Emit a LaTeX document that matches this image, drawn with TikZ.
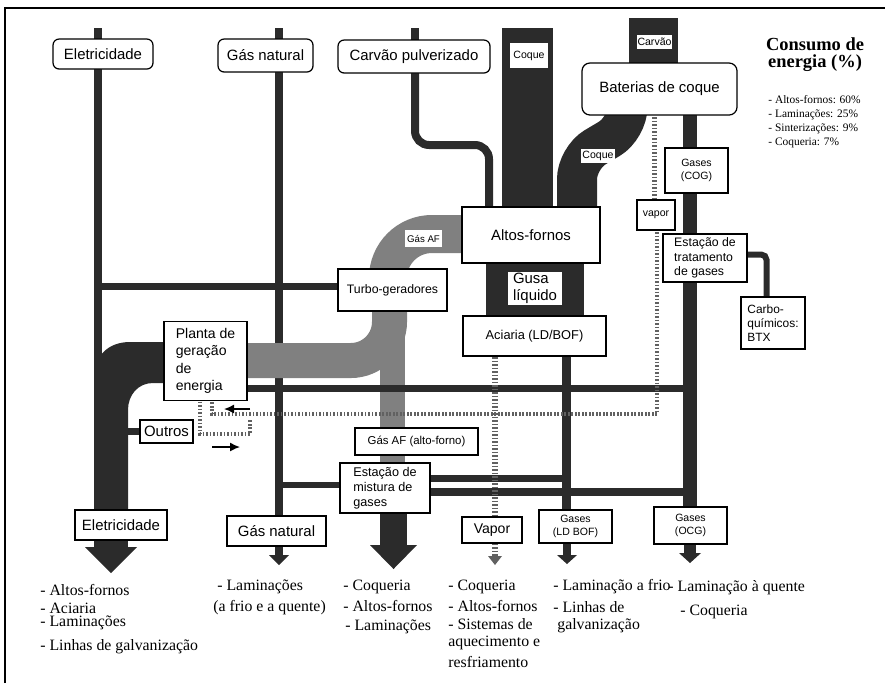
\documentclass[tikz,border=0pt]{standalone}
\usepackage{fontspec}
\setmainfont{Liberation Serif}
\setsansfont{Liberation Sans}
\usetikzlibrary{arrows.meta}
\definecolor{flowdark}{gray}{0.17}
\definecolor{flowgas}{gray}{0.50}
\definecolor{flowsteam}{gray}{0.38}
\begin{document}
\begin{tikzpicture}[x=0.2mm,y=-0.2mm,
  flowbox/.style={draw, line width=0.7pt, fill=white, inner sep=1pt, align=center,
    font=\sffamily\fontsize{8.5}{10}\selectfont},
  srcbox/.style={flowbox, rounded corners=3.5pt},
  sz/.style 2 args={minimum width=#1*0.2mm, minimum height=#2*0.2mm},
  midf/.style={font=\sffamily\fontsize{7}{8.3}\selectfont},
  smallf/.style={font=\sffamily\fontsize{6}{7.2}\selectfont},
  tag/.style={fill=white, inner sep=0.5pt, align=center, font=\sffamily\fontsize{6}{7}\selectfont},
  dband/.style={draw=flowdark, line width=#1*0.2mm},
  gband/.style={draw=flowgas, line width=#1*0.2mm},
  steam/.style={draw=flowsteam, line width=#1*0.2mm, dash pattern=on 0.35mm off 0.35mm},
  usetext/.style={anchor=west, inner sep=0, font=\fontsize{9}{10}\selectfont},
  share/.style={anchor=west, inner sep=0, font=\fontsize{6.5}{7.5}\selectfont},
  smallarrow/.style={-{Latex[length=2mm,width=1.8mm]}, line width=0.8pt}
]
\useasboundingbox (0,0) rectangle (885,683);
% frame
\draw[line width=0.6pt] (5,683) -- (5,8) -- (885,8);

% ---------- flows (drawn below the boxes) ----------
% electricity
\draw[dband=8] (98,28) -- (98,45);
\draw[dband=8] (98,60) -- (98,515);
\draw[dband=7] (94,286.5) -- (345,286.5);
% power plant output to the electricity line
\fill[flowdark] (175,342) -- (130,342) .. controls (108,342) and (94,356) .. (94,378)
  -- (94,515) -- (128,515) -- (128,410) .. controls (128,395) and (138,383) .. (153,383)
  -- (175,383) -- cycle;
\draw[dband=7] (125,431.5) -- (145,431.5);
% natural gas
\draw[dband=8] (279,28) -- (279,45);
\draw[dband=8] (279,65) -- (279,520);
\draw[dband=6] (279,485) -- (345,485);
% pulverised coal
\draw[dband=8] (415,28) -- (415,45);
\draw[dband=8, rounded corners=8] (415,65) -- (415,145) -- (489,145) -- (489,215);
% coke
\draw[dband=51] (527.5,28) -- (527.5,215);
\draw[dband=49] (653.5,18) -- (653.5,70);
\draw[dband=40, rounded corners=12] (627.5,105) -- (627.5,128) -- (577,158) -- (577,215);
% blast furnace gas
\draw[gband=38, rounded corners=25] (470,234) -- (388,234) -- (388,280);
\draw[gband=35, rounded corners=22] (240,360.5) -- (389.5,360.5) -- (389.5,300);
\draw[gband=25] (392.5,300) -- (392.5,470);
% hot metal
\draw[dband=98] (535,255) -- (535,325);
% coke oven gas
\draw[dband=14] (689.5,105) -- (689.5,515);
\draw[dband=6, rounded corners=3] (740,254.5) -- (766.5,254.5) -- (766.5,305);
\draw[dband=7] (240,388.5) -- (696.5,388.5);
\draw[dband=8] (425,492) -- (696.5,492);
% steel shop gas
\draw[dband=9] (566.5,350) -- (566.5,515);
\draw[dband=7] (425,478.5) -- (571,478.5);
% steam
\draw[steam=5] (654,110) -- (654,205);
\draw[steam=4] (657,225) -- (657,414) -- (212,414) -- (212,398);
\draw[steam=4] (200,398) -- (200,434) -- (250,434) -- (250,420);
\draw[steam=6] (495,350) -- (495,520);
\coordinate (inA) at (250,409); \coordinate (inB) at (224,409);
\draw[smallarrow] (inA) -- (inB);
\coordinate (outA) at (212,447); \coordinate (outB) at (240,447);
\draw[smallarrow] (outA) -- (outB);

% ---------- end uses (arrows) ----------
\fill[flowdark] (94,535) rectangle (128,548);
\fill[flowdark] (85,547) -- (137,547) -- (111,573) -- cycle;
\fill[flowdark] (275,540) rectangle (283,556);
\fill[flowdark] (269,555) -- (289,555) -- (279,565) -- cycle;
\fill[flowdark] (380,508) rectangle (407,546);
\fill[flowdark] (370,545) -- (417,545) -- (393.5,569) -- cycle;
\draw[steam=6] (495,540) -- (495,557);
\fill[flowsteam] (488,556) -- (502,556) -- (495,565) -- cycle;
\fill[flowdark] (562.5,540) rectangle (570.5,556);
\fill[flowdark] (557,555) -- (577,555) -- (567,564) -- cycle;
\fill[flowdark] (684,540) rectangle (696,554);
\fill[flowdark] (679,553) -- (701,553) -- (690,563) -- cycle;

% ---------- sources ----------
\node[srcbox, sz={100}{30}] (eleTop) at (103,54) {Eletricidade};
\node[srcbox, sz={95}{33}] (gasTop) at (265.5,55.5) {Gás natural};
\node[srcbox, sz={152}{33}] (carvTop) at (414,56.5) {Carvão pulverizado};
\node[srcbox, sz={155}{52}, rounded corners=4.5pt] (bat) at (659.5,89) {Baterias de coque};
\node[tag, sz={38}{25}] (coqueTag) at (529,55.5) {Coque};
\node[tag, sz={33}{14}] (carvTag) at (654.5,42) {Carvão};
\node[tag, sz={34}{14}] (coque2Tag) at (598,156) {Coque};

% ---------- process units ----------
\node[flowbox, sz={138}{56}] (alto) at (531,235) {Altos-fornos};
\node[tag, sz={37}{17}, font=\sffamily\fontsize{5.5}{6.5}\selectfont] (afTag) at (423.5,238.5) {Gás AF};
\node[tag, sz={54}{33}, font=\sffamily\fontsize{8.5}{9.6}\selectfont, align=left] (gusa) at (535,288.5) {Gusa\\líquido};
\node[flowbox, midf, sz={109}{42}] (turbo) at (392.5,290) {Turbo-geradores};
\node[flowbox, sz={143}{40}, font=\sffamily\fontsize{7.3}{8.5}\selectfont] (aciaria) at (534.5,336) {Aciaria (LD/BOF)};
\node[flowbox, sz={83}{79}, align=left, font=\sffamily\fontsize{8}{9.9}\selectfont] (planta) at (205.5,361) {Planta de\\geração\\de\\energia};
\node[flowbox, sz={53}{23}] (outros) at (166.5,431.5) {Outros};
\node[flowbox, smallf, sz={123}{27}, font=\sffamily\fontsize{6.5}{7.5}\selectfont] (afBox) at (416.5,441.5) {Gás AF (alto-forno)};
\node[flowbox, sz={90}{50}, align=left, font=\sffamily\fontsize{7.2}{8.5}\selectfont] (mistura) at (385,488) {Estação de\\mistura de\\gases};
\node[flowbox, smallf, sz={63}{45}] (cog) at (696.5,170.5) {Gases\\(COG)};
\node[flowbox, smallf, sz={38}{30}] (vaporTop) at (656,215) {vapor};
\node[flowbox, sz={84}{48}, align=left, font=\sffamily\fontsize{7}{8.2}\selectfont] (trat) at (705,258) {Estação de\\tratamento\\de gases};
\node[flowbox, sz={64}{52}, align=left, font=\sffamily\fontsize{6.8}{8}\selectfont] (btx) at (773,323) {Carbo-\\químicos:\\BTX};

% ---------- end products ----------
\node[flowbox, sz={92}{30}] (eleBot) at (121,525) {Eletricidade};
\node[flowbox, sz={99}{30}] (gasBot) at (276.5,531) {Gás natural};
\node[flowbox, sz={60}{26}, font=\sffamily\fontsize{8}{9}\selectfont] (vapBot) at (492,530) {Vapor};
\node[flowbox, smallf, sz={73}{33}] (ldBot) at (575.5,526.5) {Gases\\(LD BOF)};
\node[flowbox, smallf, sz={73}{37}] (ocgBot) at (690.5,525.5) {Gases\\(OCG)};

% ---------- consumers ----------
\node[usetext] at (40,590) {- Altos-fornos};
\node[usetext] at (40,608) {- Aciaria};
\node[usetext] at (40,623) {- Laminações};
\node[usetext] at (40,647) {- Linhas de galvanização};
\node[usetext] at (217,587) {- Laminações};
\node[usetext] at (213,608) {(a frio e a quente)};
\node[usetext] at (343,587) {- Coqueria};
\node[usetext] at (343,606) {- Altos-fornos};
\node[usetext] at (345,627) {- Laminações};
\node[usetext] at (448,587) {- Coqueria};
\node[usetext] at (448,606) {- Altos-fornos};
\node[usetext] at (448,624) {- Sistemas de};
\node[usetext] at (448,643) {aquecimento e};
\node[usetext] at (448,662) {resfriamento};
\node[usetext] at (553,587) {- Laminação a frio};
\node[usetext] at (553,607) {- Linhas de};
\node[usetext] at (557,626) {galvanização};
\node[usetext] at (668,588) {- Laminação à quente};
\node[usetext] at (680,612) {- Coqueria};

% ---------- energy share ----------
\node[align=center, inner sep=0, font=\bfseries\fontsize{10.5}{9.8}\selectfont] (consumo) at (815,55) {Consumo de\\energia (\%)};
\node[share] at (768,100) {- Altos-fornos: 60\%};
\node[share] at (768,115) {- Laminações: 25\%};
\node[share] at (768,129) {- Sinterizações: 9\%};
\node[share] at (768,143) {- Coqueria: 7\%};
\end{tikzpicture}
\end{document}
